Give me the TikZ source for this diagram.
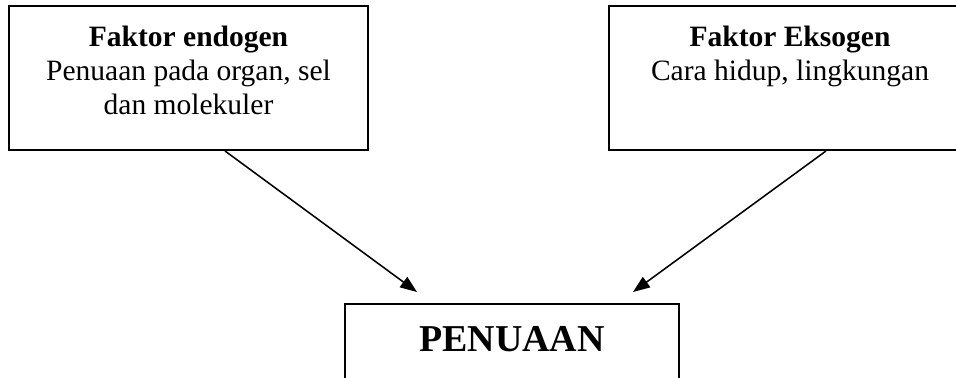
\documentclass[tikz,border=0pt]{standalone}
\usepackage{fontspec}
\setmainfont{Liberation Serif}
\usetikzlibrary{arrows.meta,positioning}
\begin{document}
\begin{tikzpicture}[>={Triangle[length=12pt,width=9pt]},
    kotak/.style={draw,line width=1.4pt,inner sep=0pt},
    isi/.style={anchor=north,align=center,inner sep=0pt,font=\fontsize{21}{24.2}\selectfont},
    panah/.style={->,line width=1.1pt}]
                \useasboundingbox(0,0)rectangle(23.9,-9.45);
                \clip(0,0)rectangle(23.9,-9.45);
                % kotak faktor
                \node[kotak,minimum width=8.975cm,minimum height=3.6cm](endo)at(4.7125,-1.95){};
                \node[kotak,minimum width=9.05cm,minimum height=3.6cm](ekso)at(19.75,-1.95){};
                \node[isi](endoteks)at([yshift=-0.525cm]endo.north){\textbf{Faktor endogen}\\Penuaan pada organ, sel\\dan molekuler};
                \node[isi](eksoteks)at([yshift=-0.525cm]ekso.north){\textbf{Faktor Eksogen}\\Cara hidup, lingkungan};
                % kotak hasil, bagian bawah terpotong
                \node[kotak,minimum width=8.35cm,minimum height=2.6cm](hasil)at(12.8,-8.9){};
                \node[anchor=base,inner sep=0pt,font=\fontsize{27}{30}\selectfont\bfseries](hasilteks)at([yshift=-1.2cm]hasil.north){PENUAAN};
                \draw[panah]([xshift=0.9125cm]endo.south)--([xshift=-2.375cm,yshift=0.275cm]hasil.north);
                \draw[panah]([xshift=0.9cm]ekso.south)--([xshift=3.025cm,yshift=0.275cm]hasil.north);
            \end{tikzpicture}
\end{document}
